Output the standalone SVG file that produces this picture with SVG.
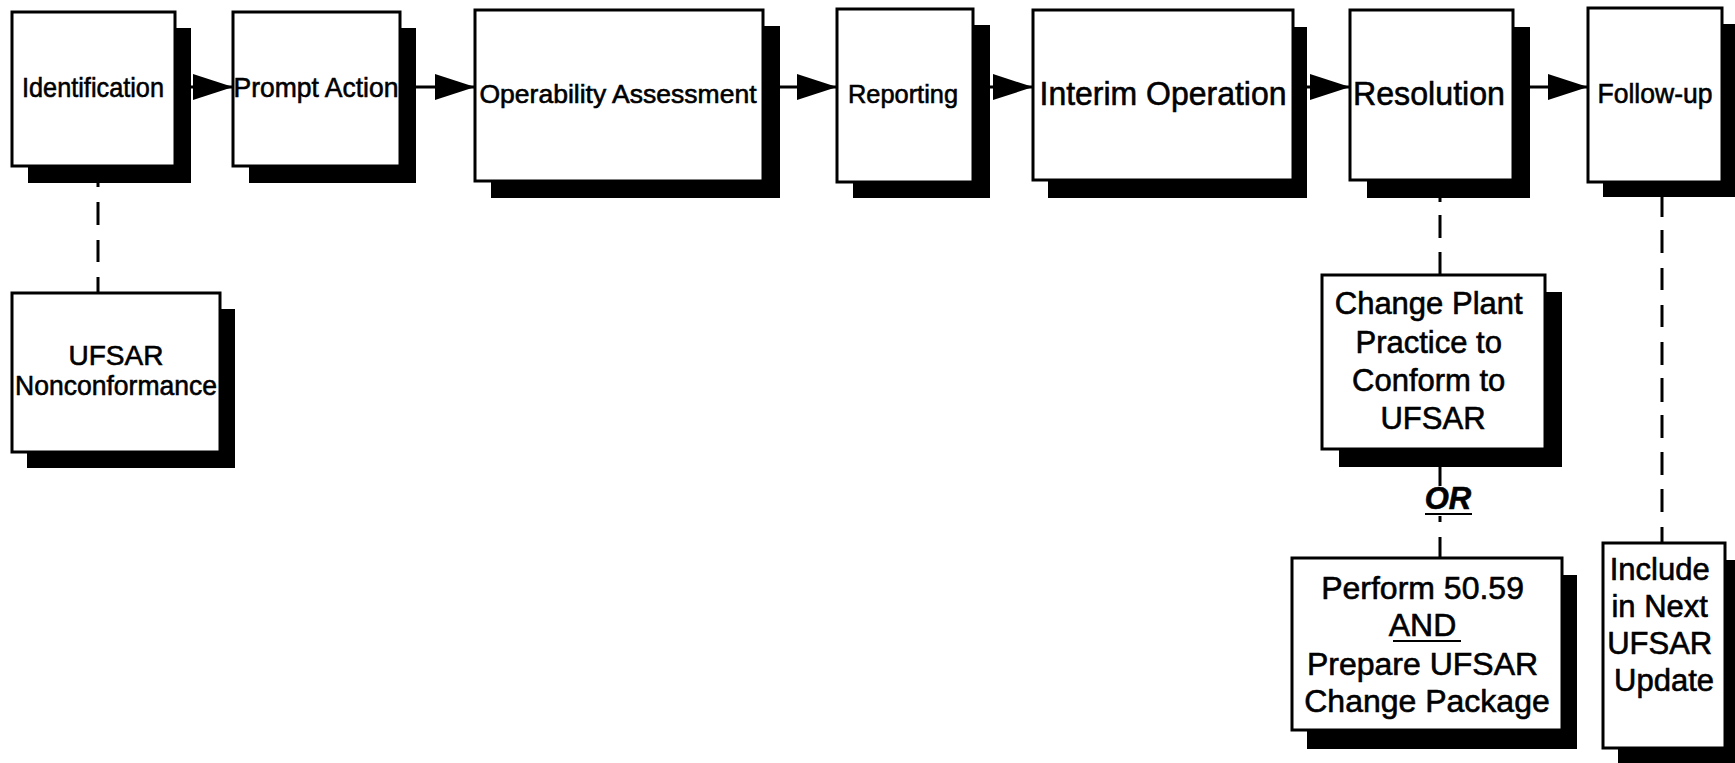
<svg xmlns="http://www.w3.org/2000/svg" width="1735" height="763" viewBox="0 0 1735 763">
  <style>
    .box { fill: #ffffff; stroke: #000000; stroke-width: 3; }
    .shadow { fill: #000000; }
    .lbl { font-family: "Liberation Sans", Arial, sans-serif; fill: #000000; stroke: #000000; stroke-width: 0.6; text-anchor: middle; }
    .flow { stroke: #000000; stroke-width: 3; fill: none; }
    .dash { stroke: #000000; stroke-width: 3; fill: none; }
    .ul { stroke: #000000; stroke-width: 2; }
  </style>
  <defs>
    <marker id="head" markerUnits="userSpaceOnUse" markerWidth="42" markerHeight="26" refX="40" refY="13" orient="auto">
      <path d="M0 0 L40 13 L0 26 Z" fill="#000000"/>
    </marker>
  </defs>

  <rect width="1735" height="763" fill="#ffffff"/>

  <!-- connectors -->
  <g id="connectors">
    <path class="flow" d="M190 87 H233" marker-end="url(#head)"/>
    <path class="flow" d="M416 87 H475" marker-end="url(#head)"/>
    <path class="flow" d="M779 87 H837" marker-end="url(#head)"/>
    <path class="flow" d="M989 87 H1033" marker-end="url(#head)"/>
    <path class="flow" d="M1306 87 H1350" marker-end="url(#head)"/>
    <path class="flow" d="M1529 87 H1588" marker-end="url(#head)"/>
    <!-- Identification to UFSAR Nonconformance -->
    <path class="dash" d="M98 183V187 M98 202V225 M98 240V262 M98 277V293"/>
    <!-- Resolution to Change Plant Practice -->
    <path class="dash" d="M1440 198V202 M1440 215V238 M1440 252V275"/>
    <!-- Change Plant Practice to Perform 50.59 (via OR) -->
    <path class="dash" d="M1440 467V486 M1440 516V522 M1440 537V558"/>
    <!-- Follow-up to Include in Next UFSAR Update -->
    <path class="dash" d="M1662 197V217 M1662 230V253 M1662 268V290 M1662 305V327 M1662 342V365 M1662 378V402 M1662 415V438 M1662 452V475 M1662 489V512 M1662 527V543"/>
  </g>

  <g id="n-identification">
    <rect class="shadow" x="28" y="28" width="163" height="155"/>
    <rect class="box" x="12" y="12" width="163" height="154"/>
    <text class="lbl" x="93" y="97" font-size="28" textLength="142" lengthAdjust="spacingAndGlyphs">Identification</text>
  </g>

  <g id="n-prompt-action">
    <rect class="shadow" x="249" y="28" width="167" height="155"/>
    <rect class="box" x="233" y="12" width="167" height="154"/>
    <text class="lbl" x="316" y="97" font-size="28" textLength="165" lengthAdjust="spacingAndGlyphs">Prompt Action</text>
  </g>

  <g id="n-operability">
    <rect class="shadow" x="491" y="26" width="289" height="172"/>
    <rect class="box" x="475" y="10" width="288" height="171"/>
    <text class="lbl" x="618" y="103" font-size="26" textLength="277" lengthAdjust="spacingAndGlyphs">Operability Assessment</text>
  </g>

  <g id="n-reporting">
    <rect class="shadow" x="853" y="25" width="137" height="173"/>
    <rect class="box" x="837" y="9" width="136" height="173"/>
    <text class="lbl" x="903" y="103" font-size="26" textLength="110" lengthAdjust="spacingAndGlyphs">Reporting</text>
  </g>

  <g id="n-interim">
    <rect class="shadow" x="1048" y="27" width="259" height="171"/>
    <rect class="box" x="1033" y="10" width="260" height="170"/>
    <text class="lbl" x="1163" y="105" font-size="34" textLength="247" lengthAdjust="spacingAndGlyphs">Interim Operation</text>
  </g>

  <g id="n-resolution">
    <rect class="shadow" x="1367" y="27" width="163" height="171"/>
    <rect class="box" x="1350" y="10" width="163" height="170"/>
    <text class="lbl" x="1429" y="105" font-size="34" textLength="152" lengthAdjust="spacingAndGlyphs">Resolution</text>
  </g>

  <g id="n-follow-up">
    <rect class="shadow" x="1603" y="24" width="132" height="173"/>
    <rect class="box" x="1588" y="8" width="134" height="174"/>
    <text class="lbl" x="1655" y="103" font-size="28" textLength="115" lengthAdjust="spacingAndGlyphs">Follow-up</text>
  </g>

  <g id="n-nonconformance">
    <rect class="shadow" x="27" y="309" width="208" height="159"/>
    <rect class="box" x="12" y="293" width="208" height="159"/>
    <text class="lbl" x="116" y="365" font-size="28">UFSAR</text>
    <text class="lbl" x="116" y="395" font-size="28" textLength="202" lengthAdjust="spacingAndGlyphs">Nonconformance</text>
  </g>

  <g id="n-change-practice">
    <rect class="shadow" x="1339" y="292" width="223" height="175"/>
    <rect class="box" x="1322" y="275" width="223" height="174"/>
    <text class="lbl" font-size="31">
      <tspan x="1433" y="314">Change Plant</tspan>
      <tspan x="1433" y="353">Practice to</tspan>
      <tspan x="1433" y="391">Conform to</tspan>
      <tspan x="1433" y="429">UFSAR</tspan>
    </text>
  </g>

  <g id="n-or">
    <text class="lbl" x="1448" y="509" font-size="31" font-weight="bold" font-style="italic">OR</text>
    <line class="ul" x1="1425" y1="514" x2="1472" y2="514"/>
  </g>

  <g id="n-perform">
    <rect class="shadow" x="1307" y="575" width="270" height="174"/>
    <rect class="box" x="1292" y="558" width="270" height="172"/>
    <text class="lbl" font-size="32">
      <tspan x="1427" y="599">Perform 50.59</tspan>
      <tspan x="1427" y="636">AND</tspan>
      <tspan x="1427" y="675">Prepare UFSAR</tspan>
      <tspan x="1427" y="712">Change Package</tspan>
    </text>
    <line class="ul" x1="1393" y1="641" x2="1461" y2="641"/>
  </g>

  <g id="n-include">
    <rect class="shadow" x="1618" y="560" width="117" height="210"/>
    <rect class="box" x="1603" y="543" width="122" height="205"/>
    <text class="lbl" font-size="31">
      <tspan x="1664" y="580">Include</tspan>
      <tspan x="1664" y="617">in Next</tspan>
      <tspan x="1664" y="654">UFSAR</tspan>
      <tspan x="1664" y="691">Update</tspan>
    </text>
  </g>
</svg>
